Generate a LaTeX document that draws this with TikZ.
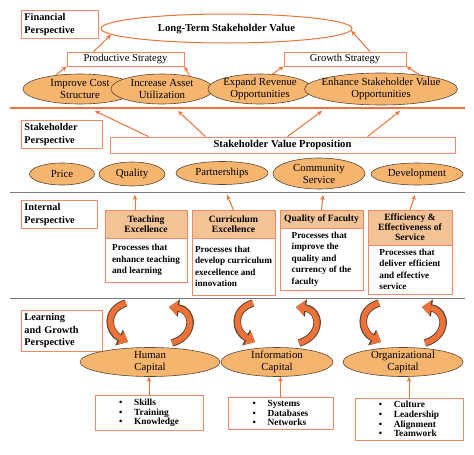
\documentclass[tikz,border=0pt]{standalone}
\usepackage{fontspec}
\setmainfont{Liberation Serif}
\usepackage{tikz}
\usetikzlibrary{arrows.meta, calc, shapes, positioning}
\definecolor{bsorange}{HTML}{EE7237}
\definecolor{bsedge}{HTML}{F08A64}
\definecolor{bsfill}{HTML}{F6B56E}
\definecolor{bshead}{HTML}{F3C396}
\definecolor{bsdark}{HTML}{5B4733}
\definecolor{bsgray}{HTML}{7A7A7A}
\tikzstyle{persp} = [rectangle, draw=bsedge, line width=0.8pt, anchor=north west, align=left, inner xsep=3pt, font=\bfseries\fontsize{10.3}{12.3}\selectfont]
\tikzstyle{goal} = [ellipse, draw=bsorange, line width=1pt, fill=white, inner sep=0pt, font=\bfseries\fontsize{10.6}{12}\selectfont]
\tikzstyle{strat} = [rectangle, draw=bsedge, line width=0.8pt, minimum height=14pt, inner sep=0pt, font=\fontsize{10.6}{12}\selectfont]
\tikzstyle{obj} = [ellipse, draw=bsdark, fill=bsfill, line width=0.6pt, inner xsep=-8pt, inner ysep=-3pt, align=center, font=\fontsize{10.8}{12}\selectfont]
\tikzstyle{head} = [rectangle, draw=bsedge, fill=bshead, line width=0.8pt, align=center, inner sep=2pt, outer sep=0pt, font=\bfseries\fontsize{9.6}{10}\selectfont]
\tikzstyle{body} = [rectangle, draw=bsedge, fill=white, line width=0.8pt, align=left, inner xsep=1.5pt, inner ysep=3pt, outer sep=0pt, font=\bfseries\fontsize{9.2}{11.5}\selectfont]
\tikzstyle{lst} = [rectangle, draw=bsedge, line width=0.8pt, align=left, font=\bfseries\fontsize{9.4}{9.6}\selectfont]
\tikzstyle{arr} = [-{Stealth[length=5pt,width=4.5pt]}, bsorange, line width=1pt]
\tikzstyle{cycout} = [-{Triangle[length=10pt,width=17pt]}, bsdark, line width=7.5pt]
\tikzstyle{cycin} = [-{Triangle[length=8.5pt,width=14.5pt]}, bsorange, line width=5.5pt]
\newcommand{\lbul}{\makebox[15pt][l]{\textbullet}}

\begin{document}
\begin{tikzpicture}[x=1pt, y=-1pt]
	\useasboundingbox (0,0) rectangle (474,455);
	
	%separators
	\draw[bsorange, line width=2pt] (10,108) -- (465,108);
	\draw[bsgray, line width=0.8pt] (10,192) -- (465,192);
	\draw[bsgray, line width=0.8pt] (10,298) -- (465,298);
	
	%perspectives
	\node[persp, text width=71pt, minimum height=27pt] (fin) at (21,10) {Financial\\Perspective};
	\node[persp, text width=75pt, minimum height=28pt] (stk) at (21,120) {Stakeholder\\Perspective};
	\node[persp, text width=70pt, minimum height=28pt] (int) at (21,200) {Internal\\Perspective};
	\node[persp, text width=75pt, minimum height=37pt] (lrn) at (21,310) {Learning\\and Growth\\Perspective};
	
	%financial
	\node[goal, minimum width=251pt, minimum height=29pt] (lts) at (226.5,28.5) {Long-Term Stakeholder Value};
	\node[strat, minimum width=117pt] (prod) at (125.5,59) {Productive Strategy};
	\node[strat, minimum width=122pt] (grw) at (345,59) {Growth Strategy};
	\node[obj, minimum width=114pt, minimum height=30pt] (ice) at (80,89) {Improve Cost\\Structure};
	\node[obj, minimum width=102pt, minimum height=30pt] (iau) at (162,89) {Increase Asset\\Utilization};
	\node[obj, minimum width=104pt, minimum height=30pt] (erv) at (260,89) {Expand Revenue\\Opportunities};
	\node[obj, minimum width=153pt, minimum height=32pt] (esv) at (381,89) {Enhance Stakeholder Value\\Opportunities};
	
	%stakeholder
	\node[strat, minimum width=345pt, minimum height=16pt, font=\bfseries\fontsize{10.6}{12}\selectfont] (svp) at (282.5,145) {Stakeholder Value Proposition};
	\node[obj, minimum width=65pt, minimum height=22pt] (price) at (62,174) {Price};
	\node[obj, minimum width=66pt, minimum height=24pt] (qual) at (132,174) {Quality};
	\node[obj, minimum width=92pt, minimum height=23pt] (part) at (222,173) {Partnerships};
	\node[obj, minimum width=92pt, minimum height=31pt] (comm) at (319,173.5) {Community\\Service};
	\node[obj, minimum width=92pt, minimum height=22pt] (dev) at (417,174) {Development};
	
	%internal
	\node[head, minimum width=82pt, minimum height=28pt, anchor=north] (teh) at (146,210) {Teaching\\Excellence};
	\node[body, minimum width=82pt, minimum height=44pt, below=0pt of teh] (teb) {Processes that\\enhance teaching\\and learning};
	\node[head, minimum width=83pt, minimum height=28pt, anchor=north] (cuh) at (233.5,210) {Curriculum\\Excellence};
	\node[body, minimum width=83pt, minimum height=57pt, below=0pt of cuh] (cub) {Processes that\\develop curriculum\\execellence and\\innovation};
	\node[head, minimum width=83pt, minimum height=18pt, anchor=north] (quh) at (321.5,210) {Quality of Faculty};
	\node[body, minimum width=83pt, minimum height=62pt, below=0pt of quh] (qub) {Processes that\\improve the\\quality and\\currency of the\\faculty};
	\node[head, minimum width=84pt, minimum height=35pt, anchor=north] (efh) at (410,210) {Efficiency \&\\Effectiveness of\\Service};
	\node[body, minimum width=84pt, minimum height=49pt, below=0pt of efh] (efb) {Processes that\\deliver efficient\\and effective\\service};
	
	%learning and growth
	\node[obj, minimum width=140pt, minimum height=29pt] (hc) at (150,362) {Human\\Capital};
	\node[obj, minimum width=112pt, minimum height=29pt] (ic) at (277,362) {Information\\Capital};
	\node[obj, minimum width=120pt, minimum height=29pt] (oc) at (403,362) {Organizational\\Capital};
	\node[lst, minimum width=108pt, minimum height=32pt] (hlist) at (149,413) {\lbul Skills\\\lbul Training\\\lbul Knowledge};
	\node[lst, minimum width=105pt, minimum height=32pt] (ilist) at (280.5,413) {\lbul Systems\\\lbul Databases\\\lbul Networks};
	\node[lst, minimum width=108pt, minimum height=42pt] (olist) at (409,419) {\lbul Culture\\\lbul Leadership\\\lbul Alignment\\\lbul Teamwork};
	
	\coordinate (s1) at (95,111);
	\coordinate (s2) at (178,111);
	\coordinate (s3) at (322,111);
	\coordinate (s4) at (400,111);
	\coordinate (i1) at (135,195);
	\coordinate (i2) at (227,195);
	\coordinate (i3) at (323,195);
	\coordinate (i4) at (415,195);
	
	%arrow
	\draw[arr] ([xshift=-32pt]prod.north) -- (lts.183);
	\draw[arr] ([xshift=25pt]grw.north) -- (lts.-1.5);
	\draw[arr] (ice.150) -- (prod.south west);
	\draw[arr] (iau.25) -- (prod.south east);
	\draw[arr] (erv.50) -- (grw.south west);
	\draw[arr] (esv.20) -- (grw.south east);
	
	\draw[arr] ([xshift=-134pt]svp.north) -- (s1);
	\draw[arr] ([xshift=-77pt]svp.north) -- (s2);
	\draw[arr] ([xshift=5pt]svp.north) -- (s3);
	\draw[arr] ([xshift=85pt]svp.north) -- (s4);
	
	\draw[arr] ([xshift=-11pt]teh.north) -- (i1);
	\draw[arr] (cuh.north) -- (i2);
	\draw[arr] (quh.north) -- (i3);
	\draw[arr] (efh.north) -- (i4);
	
	\draw[arr] (hlist.north) -- (hlist.north |- hc.south);
	\draw[arr] (ilist.north) -- (ilist.north |- ic.south);
	\draw[arr] (olist.north) -- (olist.north |- oc.south);
	
	%cycle arrows
	\foreach \c in {hc,ic,oc}{
		\draw[cycout] ($(\c)+(-24,-59)$) .. controls ($(\c)+(-46,-52)$) and ($(\c)+(-42,-30)$) .. ($(\c)+(-22,-20)$);
		\draw[cycin] ($(\c)+(-24,-59)$) .. controls ($(\c)+(-46,-52)$) and ($(\c)+(-42,-30)$) .. ($(\c)+(-22,-20)$);
		\draw[cycout] ($(\c)+(22,-19)$) .. controls ($(\c)+(46,-26)$) and ($(\c)+(44,-52)$) .. ($(\c)+(19,-55)$);
		\draw[cycin] ($(\c)+(22,-19)$) .. controls ($(\c)+(46,-26)$) and ($(\c)+(44,-52)$) .. ($(\c)+(19,-55)$);
	}
	
\end{tikzpicture}
\end{document}
